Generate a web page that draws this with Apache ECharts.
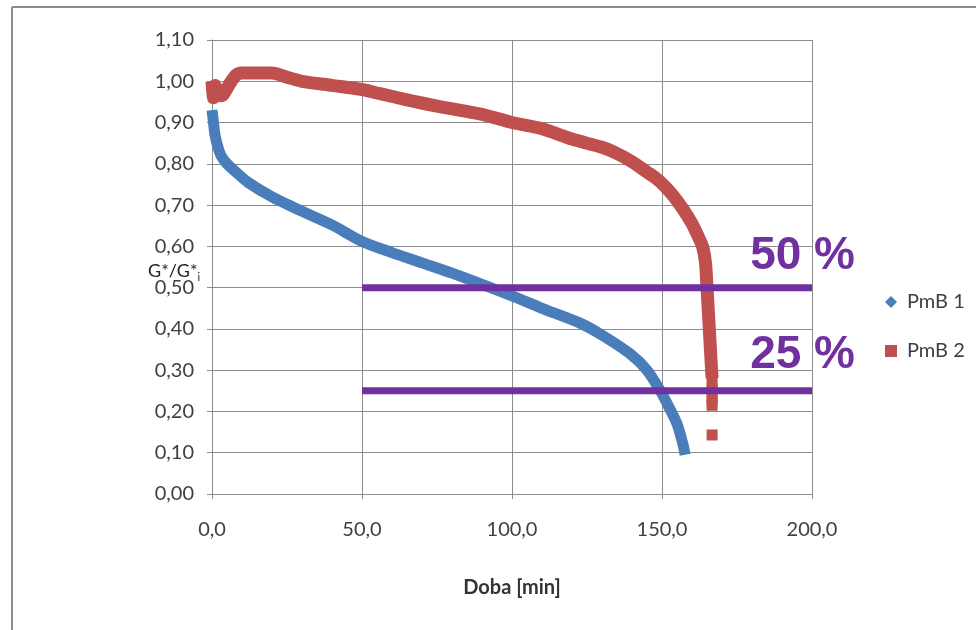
<!DOCTYPE html>
<html>
<head>
<meta charset="utf-8">
<script src="https://cdn.jsdelivr.net/npm/echarts@6/dist/echarts.min.js"></script>
<style>
  html, body { margin: 0; padding: 0; background: #fff; }
  #chart { width: 976px; height: 630px; }
</style>
</head>
<body>
<div id="chart"></div>
<script>
// PmB 1 (blue) - time [min] and G*/G*i
const blueT = [0, 0.5, 1, 2, 3, 5, 8, 12, 20, 30, 40, 50, 60, 70, 80, 90, 100, 110, 122.7, 130, 139.3, 145, 149.3, 152, 155, 157, 157.7]
const blueV = [0.93, 0.90, 0.87, 0.84, 0.82, 0.80, 0.78, 0.755, 0.72, 0.685, 0.652, 0.612, 0.585, 0.56, 0.535, 0.508, 0.48, 0.45, 0.414, 0.385, 0.34, 0.30, 0.252, 0.215, 0.17, 0.12, 0.095]

// PmB 2 (red)
const redT = [0, 0.5, 1, 2, 3, 4, 6, 8, 10, 15, 20, 25, 30, 40, 50, 56, 65, 75, 90, 100, 110, 120, 130, 135, 140, 145, 148, 151, 154, 157, 160, 162, 163.5, 164.5, 165, 165.7, 166.3, 166.7]
const redV = [1.00, 0.96, 0.99, 0.97, 0.965, 0.97, 0.995, 1.015, 1.02, 1.02, 1.02, 1.01, 1.00, 0.99, 0.98, 0.97, 0.955, 0.94, 0.92, 0.90, 0.885, 0.86, 0.84, 0.825, 0.805, 0.78, 0.765, 0.745, 0.72, 0.69, 0.655, 0.625, 0.60, 0.56, 0.50, 0.41, 0.33, 0.28]
// loose squares at the end of PmB 2
const redTailT = [166.7, 166.7, 166.7, 166.7, 166.7, 166.7]
const redTailV = [0.268, 0.255, 0.24, 0.228, 0.215, 0.143]

// reference levels
const levels = [0.50, 0.25]
const levelLabels = ['50 %', '25 %']
const levelFrom = 50
const levelTo = 200

const blue = '#4a7ebb'
const red = '#c0504d'
const purple = '#7030a0'
const gridColor = '#8c8c8c'
const font = 'Lato'

const chart = echarts.init(document.getElementById('chart'))

const zip = (xs, ys) => xs.map((x, i) => [x, ys[i]])

const levelSeries = levels.map((lv, i) => ({
  name: levelLabels[i],
  type: 'line',
  silent: true,
  symbol: 'none',
  z: 5,
  lineStyle: { color: purple, width: 7 },
  data: [[levelFrom, lv], [levelTo, lv]]
}))

chart.setOption({
  animation: false,
  backgroundColor: '#fff',
  grid: {
    left: 212,
    right: 164,
    top: 40,
    bottom: 136
  },
  legend: {
    orient: 'vertical',
    left: 880,
    top: 287,
    itemWidth: 12,
    itemHeight: 12,
    itemGap: 29,
    textStyle: {
      fontFamily: font,
      fontSize: 20,
      color: '#404040',
      padding: [0, 0, 0, 5]
    },
    data: [
      { name: 'PmB 1', icon: 'diamond' },
      { name: 'PmB 2', icon: 'rect' }
    ]
  },
  xAxis: {
    type: 'value',
    min: 0,
    max: 200,
    interval: 50,
    name: 'Doba [min]',
    nameLocation: 'middle',
    nameGap: 84,
    nameTextStyle: {
      fontFamily: font,
      fontSize: 20,
      fontWeight: 'bold',
      color: '#333'
    },
    axisLine: { show: true, lineStyle: { color: gridColor, width: 1 } },
    axisTick: { show: true, length: 5, lineStyle: { color: gridColor } },
    axisLabel: {
      margin: 26,
      fontFamily: font,
      fontSize: 20,
      color: '#404040',
      formatter: v => v.toFixed(1).replace('.', ',')
    },
    splitLine: { show: true, lineStyle: { color: gridColor, width: 1 } }
  },
  yAxis: {
    type: 'value',
    min: 0,
    max: 1.1,
    interval: 0.1,
    axisLine: { show: true, lineStyle: { color: gridColor, width: 1 } },
    axisTick: { show: true, length: 5, lineStyle: { color: gridColor } },
    axisLabel: {
      margin: 18,
      fontFamily: font,
      fontSize: 20,
      color: '#404040',
      formatter: v => v.toFixed(2).replace('.', ',')
    },
    splitLine: { show: true, lineStyle: { color: gridColor, width: 1 } }
  },
  graphic: [
    // frame of the original picture (top and left edge only)
    { type: 'line', silent: true, shape: { x1: 12, y1: 7, x2: 976, y2: 7 }, style: { stroke: '#8c8c8c', lineWidth: 2 } },
    { type: 'line', silent: true, shape: { x1: 12, y1: 7, x2: 12, y2: 630 }, style: { stroke: '#8c8c8c', lineWidth: 2 } },
    // y axis title
    {
      type: 'text', x: 148, y: 271,
      style: {
        text: 'G*/G*{s|i}',
        fontFamily: font,
        fontSize: 18,
        fill: '#222',
        align: 'left',
        verticalAlign: 'middle',
        rich: {
          s: { fontFamily: font, fontSize: 11, fill: '#222', padding: [12, 0, 0, 0] }
        }
      }
    },
    {
      type: 'text', x: 855, y: 256, z: 10,
      style: { text: levelLabels[0], font: 'bold 46px "Liberation Sans"', fill: purple, align: 'right', verticalAlign: 'middle' }
    },
    {
      type: 'text', x: 855, y: 355, z: 10,
      style: { text: levelLabels[1], font: 'bold 46px "Liberation Sans"', fill: purple, align: 'right', verticalAlign: 'middle' }
    }
  ],
  series: [
    {
      name: 'PmB 1',
      type: 'line',
      symbol: 'none',
      smooth: 0.25,
      itemStyle: { color: blue },
      lineStyle: { color: blue, width: 11, join: 'round' },
      data: zip(blueT, blueV)
    },
    {
      name: 'PmB 2',
      type: 'line',
      symbol: 'none',
      smooth: 0.25,
      itemStyle: { color: red },
      lineStyle: { color: red, width: 13, join: 'round' },
      data: zip(redT, redV)
    },
    {
      name: 'PmB 2',
      type: 'scatter',
      symbol: 'rect',
      symbolSize: 11,
      itemStyle: { color: red, opacity: 1 },
      data: zip(redTailT, redTailV)
    },
    ...levelSeries
  ]
})
</script>
</body>
</html>
